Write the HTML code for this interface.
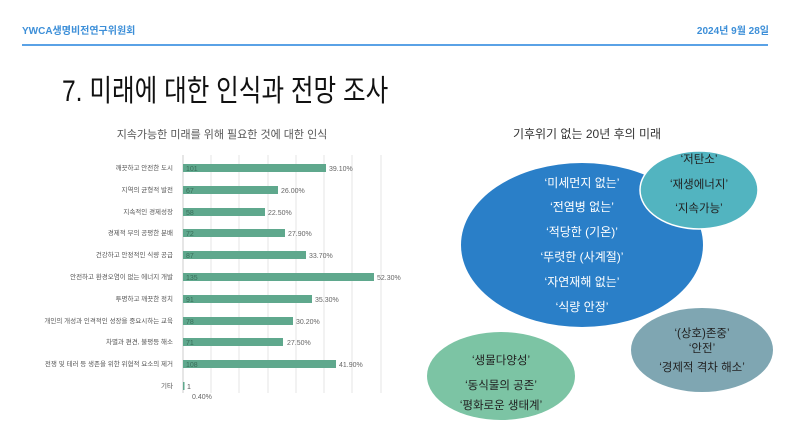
<!DOCTYPE html>
<html><head><meta charset="utf-8"><style>
body{margin:0;width:793px;height:446px;background:#fff;overflow:hidden;font-family:"Liberation Sans","Noto Sans CJK KR",sans-serif;position:relative}
.a{position:absolute;white-space:nowrap}
</style></head><body>
<div class="a" style="left:22px;top:22px;font-size:10px;font-weight:bold;color:#3d8fd8">YWCA생명비전연구위원회</div>
<div class="a" style="right:24px;top:22px;font-size:10px;font-weight:bold;color:#3d8fd8">2024년 9월 28일</div>
<div class="a" style="left:22px;top:44px;width:746px;height:2px;background:#5aa2e6"></div>
<div class="a" style="left:62px;top:66px;font-size:30px;color:#111;transform:scaleX(0.82);transform-origin:left top">7. 미래에 대한 인식과 전망 조사</div>
<svg class="a" style="left:0;top:0" width="793" height="446" font-family="Liberation Sans, Noto Sans CJK KR, sans-serif">
<text x="222" y="138" font-size="11" fill="#555" text-anchor="middle">지속가능한 미래를 위해 필요한 것에 대한 인식</text>
<g stroke="#e4e4e4" stroke-width="1">
<line x1="211" y1="155" x2="211" y2="393"/><line x1="239" y1="155" x2="239" y2="393"/><line x1="268" y1="155" x2="268" y2="393"/><line x1="296" y1="155" x2="296" y2="393"/><line x1="324" y1="155" x2="324" y2="393"/><line x1="352" y1="155" x2="352" y2="393"/><line x1="381" y1="155" x2="381" y2="393"/>
</g>
<line x1="183" y1="155" x2="183" y2="393" stroke="#ccc"/>
<g font-size="6.5" fill="#555" text-anchor="end">
<text x="173" y="170">깨끗하고 안전한 도시</text>
<text x="173" y="192">지역의 균형적 발전</text>
<text x="173" y="214">지속적인 경제성장</text>
<text x="173" y="235">경제적 부의 공평한 분배</text>
<text x="173" y="257">건강하고 안정적인 식량 공급</text>
<text x="173" y="279">안전하고 환경오염이 없는 에너지 개발</text>
<text x="173" y="301">투명하고 깨끗한 정치</text>
<text x="173" y="323">개인의 개성과 인격적인 성장을 중요시하는 교육</text>
<text x="173" y="344">차별과 편견, 불평등 해소</text>
<text x="173" y="366">전쟁 및 테러 등 생존을 위한 위협적 요소의 제거</text>
<text x="173" y="388">기타</text>
</g>
<g fill="#5fa88d">
<rect x="183" y="164" width="143" height="8"/>
<rect x="183" y="186" width="95" height="8"/>
<rect x="183" y="208" width="82" height="8"/>
<rect x="183" y="229" width="102" height="8"/>
<rect x="183" y="251" width="123" height="8"/>
<rect x="183" y="273" width="191" height="8"/>
<rect x="183" y="295" width="129" height="8"/>
<rect x="183" y="317" width="110" height="8"/>
<rect x="183" y="338" width="100" height="8"/>
<rect x="183" y="360" width="153" height="8"/>
<rect x="183" y="382" width="1.5" height="8"/>
</g>
<g font-size="7" fill="#3a6e5a">
<text x="186" y="171">101</text><text x="186" y="193">67</text><text x="186" y="215">58</text><text x="186" y="236">72</text><text x="186" y="258">87</text><text x="186" y="280">135</text><text x="186" y="302">91</text><text x="186" y="324">78</text><text x="186" y="345">71</text><text x="186" y="367">108</text><text x="187" y="389" fill="#555">1</text>
</g>
<g font-size="7" fill="#666">
<text x="329" y="171">39.10%</text><text x="281" y="193">26.00%</text><text x="268" y="215">22.50%</text><text x="288" y="236">27.90%</text><text x="309" y="258">33.70%</text><text x="377" y="280">52.30%</text><text x="315" y="302">35.30%</text><text x="296" y="324">30.20%</text><text x="287" y="345">27.50%</text><text x="339" y="367">41.90%</text><text x="192" y="399">0.40%</text>
</g>
<text x="587" y="138" font-size="12" fill="#333" text-anchor="middle">기후위기 없는 20년 후의 미래</text>
<ellipse cx="582" cy="245" rx="121" ry="82" fill="#2a7fc8"/>
<ellipse cx="699" cy="190" rx="59" ry="39" fill="#52b4c0" stroke="#fff" stroke-width="1.5"/>
<ellipse cx="702" cy="350" rx="71" ry="42" fill="#7fa6b2"/>
<ellipse cx="501" cy="376" rx="74" ry="44" fill="#7cc4a4"/>
<g font-size="12" fill="#fff" text-anchor="middle">
<text x="582" y="187">‘미세먼지 없는’</text>
<text x="582" y="211">‘전염병 없는’</text>
<text x="582" y="236">‘적당한 (기온)’</text>
<text x="582" y="261">‘뚜렷한 (사계절)’</text>
<text x="582" y="286">‘자연재해 없는’</text>
<text x="582" y="311">‘식량 안정’</text>
</g>
<g font-size="11.5" fill="#222" text-anchor="middle">
<text x="699" y="163">‘저탄소’</text><text x="699" y="188">‘재생에너지’</text><text x="699" y="212">‘지속가능’</text>
<text x="702" y="337">‘(상호)존중’</text><text x="702" y="352">‘안전’</text><text x="702" y="371">‘경제적 격차 해소’</text>
<text x="501" y="364">‘생물다양성’</text><text x="501" y="389">‘동식물의 공존’</text><text x="501" y="409">‘평화로운 생태계’</text>
</g>
</svg>
</body></html>
